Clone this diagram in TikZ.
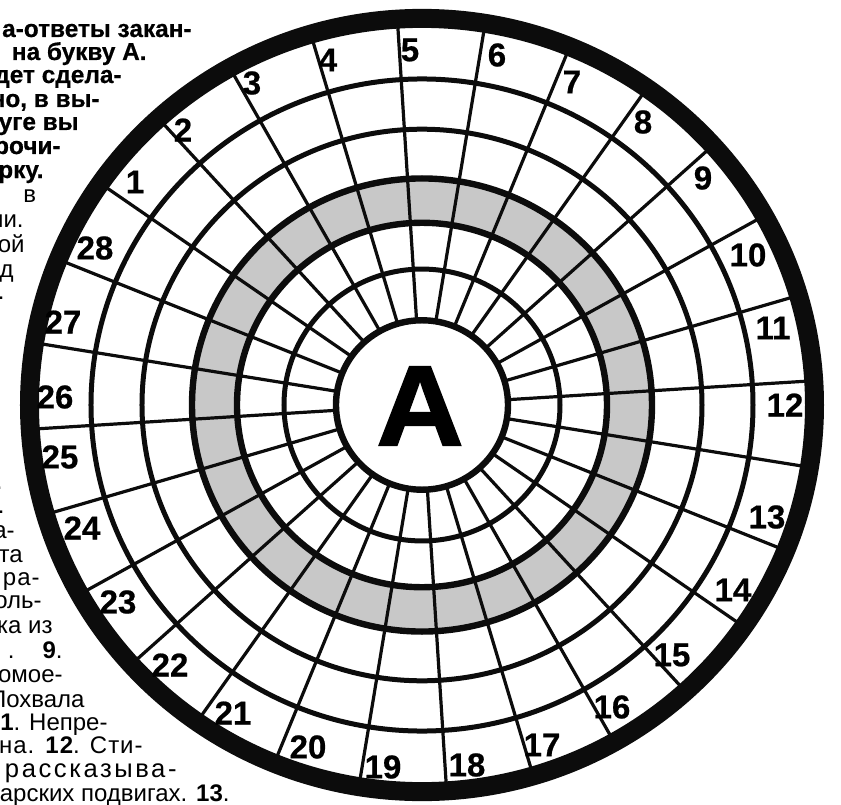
\documentclass[tikz,border=0pt]{standalone}
\usepackage{fontspec}
\setmainfont{Liberation Sans}
\newfontfamily\heavyfont[FakeBold=1.5]{Liberation Sans Bold}
\newfontfamily\numfont[FakeBold=0.6]{Liberation Sans Bold}
\newfontfamily\midfont[LetterSpace=4]{Liberation Sans}
\newfontfamily\widefont[LetterSpace=10]{Liberation Sans}
\usepackage{xcolor}
\usepackage{tikz}
\definecolor{figline}{RGB}{12,12,12}
\definecolor{figshade}{RGB}{200,200,200}
\tikzset{
  rng/.style ={draw=figline, line width=2.5pt},
  rngb/.style={draw=figline, line width=3.2pt},
  spk/.style ={draw=figline, line width=1.6pt, line cap=butt},
  rim/.style ={draw=figline, line width=9.5pt},
  num/.style ={font=\numfont\fontsize{16.5}{17}\selectfont, inner sep=0pt},
  txb/.style ={font=\numfont\fontsize{12.2}{14}\selectfont, inner sep=0pt, anchor=base east},
  txt/.style ={font=\fontsize{12}{14}\selectfont, inner sep=0pt, anchor=base east},
}
\begin{document}
\begin{tikzpicture}[x=0.5pt,y=0.5pt]
  \useasboundingbox (-422,-399) rectangle (419,405);
  \begin{scope}[yscale=0.985]
  \fill[figshade,even odd rule] (0,0) circle (230) (0,0) circle (185);
  \draw[spk] (3.6:86) -- (3.6:392);
  \draw[spk] (16.46:86) -- (16.46:392);
  \draw[spk] (29.31:86) -- (29.31:392);
  \draw[spk] (42.17:86) -- (42.17:392);
  \draw[spk] (55.03:86) -- (55.03:392);
  \draw[spk] (67.89:86) -- (67.89:392);
  \draw[spk] (80.74:86) -- (80.74:392);
  \draw[spk] (93.6:86) -- (93.6:392);
  \draw[spk] (106.46:86) -- (106.46:392);
  \draw[spk] (119.31:86) -- (119.31:392);
  \draw[spk] (132.17:86) -- (132.17:392);
  \draw[spk] (145.03:86) -- (145.03:392);
  \draw[spk] (157.89:86) -- (157.89:392);
  \draw[spk] (170.74:86) -- (170.74:392);
  \draw[spk] (183.6:86) -- (183.6:392);
  \draw[spk] (196.46:86) -- (196.46:392);
  \draw[spk] (209.31:86) -- (209.31:392);
  \draw[spk] (222.17:86) -- (222.17:392);
  \draw[spk] (235.03:86) -- (235.03:392);
  \draw[spk] (247.89:86) -- (247.89:392);
  \draw[spk] (260.74:86) -- (260.74:392);
  \draw[spk] (273.6:86) -- (273.6:392);
  \draw[spk] (286.46:86) -- (286.46:392);
  \draw[spk] (299.31:86) -- (299.31:392);
  \draw[spk] (312.17:86) -- (312.17:392);
  \draw[spk] (325.03:86) -- (325.03:392);
  \draw[spk] (337.89:86) -- (337.89:392);
  \draw[spk] (350.74:86) -- (350.74:392);
  \draw[rngb] (0,0) circle (86);
  \draw[rng] (0,0) circle (138);
  \draw[rngb] (0,0) circle (185);
  \draw[rngb] (0,0) circle (230);
  \draw[rng] (0,0) circle (280);
  \draw[rng] (0,0) circle (331);
  \draw[rim] (0,0) circle (392.5);
  \end{scope}
  \node[font=\heavyfont\fontsize{57}{57}\selectfont, inner sep=0pt, xscale=1.06] (ctr) at (-2,-1) {A};
  \node[num] (n1) at (-287,223) {1};
  \node[num] (n2) at (-239,275) {2};
  \node[num] (n3) at (-170,322) {3};
  \node[num] (n4) at (-94,345) {4};
  \node[num] (n5) at (-12,355) {5};
  \node[num] (n6) at (75,350) {6};
  \node[num] (n7) at (150,323) {7};
  \node[num] (n8) at (221,283) {8};
  \node[num] (n9) at (281,227) {9};
  \node[num] (n10) at (326,150) {10};
  \node[num] (n11) at (351,77) {11};
  \node[num] (n12) at (363,0) {12};
  \node[num] (n13) at (345,-112) {13};
  \node[num] (n14) at (311,-185) {14};
  \node[num] (n15) at (250,-250) {15};
  \node[num] (n16) at (190,-302) {16};
  \node[num] (n17) at (120,-340) {17};
  \node[num] (n18) at (45,-360) {18};
  \node[num] (n19) at (-39,-362) {19};
  \node[num] (n20) at (-114,-342) {20};
  \node[num] (n21) at (-189,-308) {21};
  \node[num] (n22) at (-252,-260) {22};
  \node[num] (n23) at (-304,-197) {23};
  \node[num] (n24) at (-340,-123) {24};
  \node[num] (n25) at (-362,-52) {25};
  \node[num] (n26) at (-367,8) {26};
  \node[num] (n27) at (-359,83) {27};
  \node[num] (n28) at (-327,157) {28};
  \node[txb] (h1) at (-230,368) {а-ответы закан-};
  \node[txb] (h2) at (-275,345) {на букву А.};
  \node[txb] (h3) at (-300,322) {дет сдела-};
  \node[txb] (h4) at (-322,298) {но, в вы-};
  \node[txb] (h5) at (-343,275) {руге вы};
  \node[txb] (h6) at (-361,251) {рочи-};
  \node[txb] (h7) at (-378,227) {рку.};
  \node[txt,anchor=base west] (u1) at (-399,202) {в};
  \node[txt] (u2) at (-398,177) {ии.};
  \node[txt] (u3) at (-397,153) {ой};
  \node[txt] (u4) at (-408,128) {д};
  \node[txt] (u5) at (-417,106) {.};
  \node[txt] (b1) at (-419,-84) {.};
  \node[txt] (b2) at (-417,-108) {.};
  \node[txt] (b3) at (-407,-133) {а-};
  \node[txt] (b4) at (-399,-157) {та};
  \node[txt,font=\midfont\fontsize{12}{14}\selectfont] (b5) at (-382,-180) {ра-};
  \node[txt] (b6) at (-380,-203) {оль-};
  \node[txt] (b7) at (-369,-228) {ка из};
  \node[txt] (b8) at (-359,-253) {.\hspace{14pt}\textbf{9}.};
  \node[txt] (b9) at (-359,-277) {комое-};
  \node[txt] (b10) at (-337,-302) {Похвала};
  \node[txt] (b11) at (-314,-325) {\textbf{1}. Непре-};
  \node[txt,font=\midfont\fontsize{12}{14}\selectfont] (b12) at (-279,-348) {на. \textbf{12}. Сти-};
  \node[txt,font=\widefont\fontsize{12.8}{14}\selectfont] (b13) at (-245,-372) {рассказыва-};
  \node[txt] (b14) at (-192,-396) {арских подвигах. \textbf{13}.};
\end{tikzpicture}
\end{document}
